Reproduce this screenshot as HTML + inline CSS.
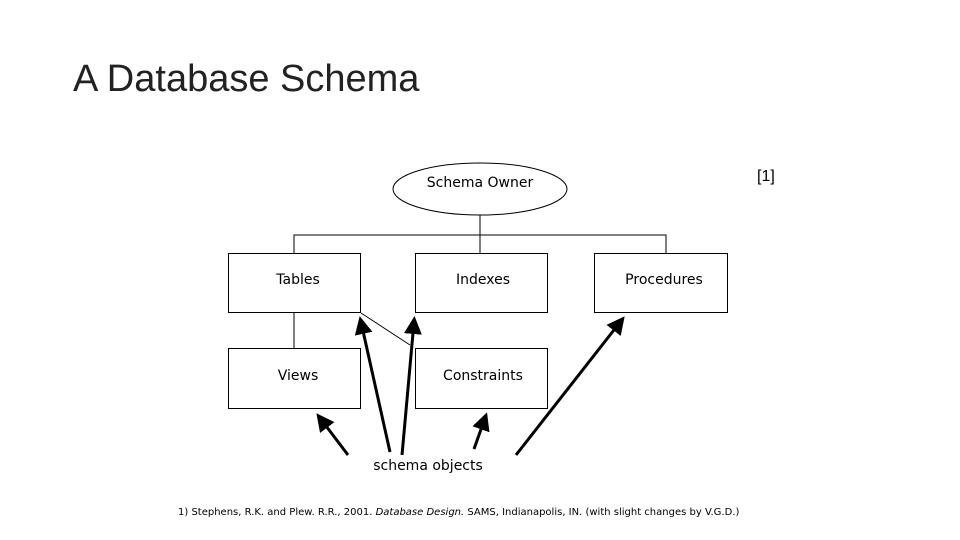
<!DOCTYPE html>
<html><head><meta charset="utf-8"><style>
html,body{margin:0;padding:0;background:#fff}
body{width:960px;height:540px;position:relative;overflow:hidden;font-family:"DejaVu Sans","Liberation Sans",sans-serif}
.t{position:absolute;white-space:nowrap;color:#000}
</style></head><body>
<div class="t" style="left:73px;top:58px;font-family:'Liberation Sans',sans-serif;font-size:38px;color:#222">A Database Schema</div>
<div class="t" style="left:757px;top:168px;font-family:'Liberation Sans',sans-serif;font-size:16px">[1]</div>
<svg width="960" height="540" style="position:absolute;left:0;top:0">
<defs><marker id="a" markerWidth="6" markerHeight="6" refX="4" refY="3" orient="auto" markerUnits="strokeWidth"><path d="M0,0 L6,3 L0,6 z" fill="#000"/></marker></defs>
<g fill="none" stroke="#000" stroke-width="1">
<ellipse cx="480" cy="189" rx="87" ry="26"/>
<path d="M480 215V253M294 253V235H666V253"/>
<rect x="228.5" y="253.5" width="132" height="59"/>
<rect x="415.5" y="253.5" width="132" height="59"/>
<rect x="594.5" y="253.5" width="133" height="59"/>
<rect x="228.5" y="348.5" width="132" height="60"/>
<rect x="415.5" y="348.5" width="132" height="60"/>
<path d="M294 313V348M361 313L410 345"/>
</g>
<g stroke="#000" stroke-width="3" marker-end="url(#a)">
<line x1="348" y1="455" x2="320" y2="418"/>
<line x1="390" y1="452" x2="361" y2="322"/>
<line x1="402" y1="455" x2="414" y2="322"/>
<line x1="474" y1="449" x2="485" y2="418"/>
<line x1="516" y1="455" x2="621" y2="321"/>
</g>
<g font-family="DejaVu Sans,Liberation Sans,sans-serif" font-size="14" text-anchor="middle">
<text x="480" y="187">Schema Owner</text>
<text x="298" y="284">Tables</text>
<text x="483" y="284">Indexes</text>
<text x="664" y="284">Procedures</text>
<text x="298" y="380">Views</text>
<text x="483" y="380">Constraints</text>
<text x="428" y="470">schema objects</text>
</g>
<text x="178" y="515" font-family="DejaVu Sans,Liberation Sans,sans-serif" font-size="10">1) Stephens, R.K. and Plew. R.R., 2001. <tspan font-style="italic">Database Design.</tspan> SAMS, Indianapolis, IN. (with slight changes by V.G.D.)</text>
</svg>
</body></html>
